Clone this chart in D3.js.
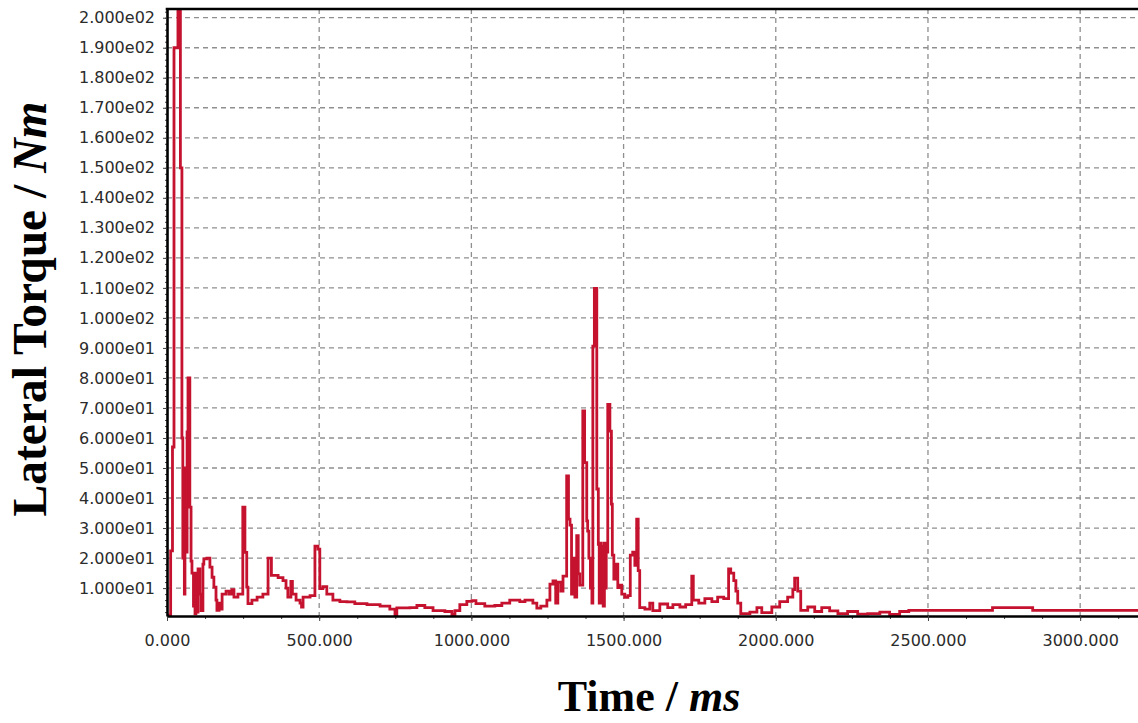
<!DOCTYPE html>
<html>
<head>
<meta charset="utf-8">
<script src="https://cdn.jsdelivr.net/npm/d3@7"></script>
<style>
  body { margin: 0; background: #fff; }
  svg { display: block; }
</style>
</head>
<body>
<svg id="chart" width="1138" height="723"></svg>
<script>
// Série (tempo em ms, torque lateral em Nm)
const timeMs = [
  0, 12, 18, 23, 36, 44, 49, 52, 54, 57, 59, 62, 66, 69, 75, 79, 82, 87, 92, 95,
  98, 102, 108, 112, 118, 121, 131, 141, 148, 154, 161, 164, 171, 177, 181, 194, 204, 213, 220, 233,
  249, 256, 262, 266, 279, 296, 315, 332, 343, 365, 381, 391, 397, 407, 412, 424, 437, 442, 447, 470,
  486, 496, 502, 512, 525, 545, 568, 591, 617, 657, 700, 732, 749, 755, 798, 821, 847, 874, 913, 936,
  946, 962, 985, 1002, 1015, 1044, 1077, 1100, 1126, 1159, 1176, 1202, 1215, 1228, 1248, 1258, 1268, 1277, 1284, 1294,
  1301, 1313, 1319, 1324, 1329, 1333, 1340, 1346, 1351, 1356, 1366, 1372, 1379, 1382, 1386, 1391, 1396, 1399, 1404, 1412,
  1417, 1420, 1424, 1427, 1430, 1433, 1437, 1440, 1443, 1448, 1455, 1460, 1463, 1468, 1474, 1481, 1487, 1494, 1504, 1514,
  1522, 1530, 1537, 1543, 1548, 1553, 1570, 1586, 1596, 1619, 1645, 1662, 1685, 1704, 1724, 1729, 1747, 1767, 1790, 1809,
  1829, 1845, 1852, 1862, 1869, 1875, 1885, 1915, 1938, 1954, 1987, 2013, 2039, 2056, 2062, 2072, 2082, 2105, 2128, 2151,
  2177, 2204, 2236, 2269, 2302, 2342, 2374, 2407, 2437, 2712, 2844, 3200
];
const torqueNm = [
  1, 22.4, 57, 190, 210, 150, 60, 20, 45, 8, 50, 22, 62, 80, 37, 19, 15, 4, 1.4, 15,
  2, 16.4, 8, 2.5, 18, 19.7, 20, 17, 13.6, 10.3, 6, 2.6, 5, 3, 8, 9, 8, 9.5, 7, 8,
  37, 21.9, 10.3, 4.8, 6, 7, 8, 20, 14.2, 13.5, 12.5, 10, 7, 12.2, 8, 6, 5, 3.7, 7, 7.5,
  24, 23, 9.8, 10.5, 8, 6, 5.5, 5.4, 4.8, 4.5, 4, 3, 1.2, 3.4, 3.5, 4.2, 3.5, 2.5, 2.2, 1.2,
  2.5, 4.5, 5.6, 5.8, 4.8, 4, 4.2, 5, 6, 5.5, 6, 5, 3.3, 4, 6, 11.3, 12.4, 5, 12, 9,
  14, 47.4, 33, 31, 8, 20, 7, 27.5, 14.7, 11, 69, 51.8, 32.4, 29, 20, 10, 5, 90.6, 109.8, 43,
  24.6, 5, 25, 8, 24, 4, 25, 10, 22, 71.2, 62.3, 38, 21, 13, 18, 10.2, 11, 8, 6.9, 7.5,
  21, 22, 17.6, 33, 15.8, 3.5, 3, 5, 2.5, 4.7, 3.5, 4.5, 3.7, 4.5, 14, 6, 5, 6.5, 5.5, 7,
  6.5, 16.4, 15, 12.5, 9, 5, 1.5, 2, 3.5, 1.8, 3.7, 5.5, 7, 9.5, 13.3, 9, 2.6, 3.7, 2.2, 3.5,
  2.4, 1.5, 2.2, 1.3, 1.5, 2, 1.2, 2.2, 2.6, 3.5, 2.6, 2.6
];

const xTicks = [0, 500, 1000, 1500, 2000, 2500, 3000];
const xTickLabels = ["0.000", "500.000", "1000.000", "1500.000", "2000.000", "2500.000", "3000.000"];
const yTicks = [10, 20, 30, 40, 50, 60, 70, 80, 90, 100, 110, 120, 130, 140, 150, 160, 170, 180, 190, 200];
const yTickLabels = [
  "1.000e01", "2.000e01", "3.000e01", "4.000e01", "5.000e01", "6.000e01", "7.000e01", "8.000e01", "9.000e01",
  "1.000e02", "1.100e02", "1.200e02", "1.300e02", "1.400e02", "1.500e02", "1.600e02", "1.700e02", "1.800e02",
  "1.900e02", "2.000e02"
];

const svg = d3.select("#chart");
const margens = { left: 167, right: 0, top: 9, bottom: 107 };
const width = 1138 - margens.left - margens.right;
const height = 723 - margens.top - margens.bottom;

const x = d3.scaleLinear().domain([0, 3190]).range([0, width]);
const y = d3.scaleLinear().domain([0.7, 202.9]).range([height, 0]);

const g = svg.append("g").attr("transform", `translate(${margens.left},${margens.top})`);

g.append("defs").append("clipPath").attr("id", "plot-clip")
  .append("rect").attr("x", 0).attr("y", 0).attr("width", width).attr("height", height);

// Grade tracejada
g.append("g").selectAll("line")
  .data(yTicks)
  .enter()
  .append("line")
  .attr("x1", 0)
  .attr("x2", width)
  .attr("y1", (d) => y(d))
  .attr("y2", (d) => y(d))
  .attr("stroke", "#8f8f8f")
  .attr("stroke-width", 1.3)
  .attr("stroke-dasharray", "5,4");

g.append("g").selectAll("line")
  .data(xTicks.filter((d) => d > 0))
  .enter()
  .append("line")
  .attr("x1", (d) => x(d))
  .attr("x2", (d) => x(d))
  .attr("y1", 0)
  .attr("y2", height)
  .attr("stroke", "#8f8f8f")
  .attr("stroke-width", 1.3)
  .attr("stroke-dasharray", "5,4");

// Linha da série
const line = d3.line()
  .x((d) => x(d[0]))
  .y((d) => y(d[1]))
  .curve(d3.curveStepAfter);

g.append("path")
  .datum(timeMs.map((t, i) => [t, torqueNm[i]]))
  .attr("clip-path", "url(#plot-clip)")
  .attr("fill", "none")
  .attr("stroke", "#c4122f")
  .attr("stroke-width", 2.8)
  .attr("stroke-linejoin", "miter")
  .attr("d", line);

// Ticks menores
g.append("g")
  .attr("transform", `translate(0,${height})`)
  .call(d3.axisBottom(x).tickValues(d3.range(0, 3190, 125)).tickSize(3).tickFormat(""))
  .call((a) => a.select(".domain").remove())
  .call((a) => a.selectAll("line").attr("stroke", "#444"));

g.append("g")
  .call(d3.axisLeft(y).tickValues(d3.range(2, 203, 2)).tickSize(2).tickFormat(""))
  .call((a) => a.select(".domain").remove())
  .call((a) => a.selectAll("line").attr("stroke", "#444"));

// Eixos
const xAxis = g.append("g")
  .attr("transform", `translate(0,${height})`)
  .call(d3.axisBottom(x).tickValues(xTicks).tickFormat((d, i) => xTickLabels[i]).tickSize(5).tickSizeOuter(0).tickPadding(14));

const yAxis = g.append("g")
  .call(d3.axisLeft(y).tickValues(yTicks).tickFormat((d, i) => yTickLabels[i]).tickSize(4).tickSizeOuter(0).tickPadding(8));

[xAxis, yAxis].forEach((a) => {
  a.select(".domain").attr("stroke", "#000").attr("stroke-width", 2.6);
  a.selectAll(".tick line").attr("stroke", "#444");
  a.selectAll("text")
    .attr("fill", "#2b2b2b")
    .style("font-family", "'DejaVu Sans', Verdana, sans-serif")
    .style("font-size", "16px");
});

// Borda superior
g.append("line")
  .attr("x1", -1.3)
  .attr("x2", width)
  .attr("y1", 0)
  .attr("y2", 0)
  .attr("stroke", "#000")
  .attr("stroke-width", 2.6);

// Títulos dos eixos
svg.append("text")
  .attr("x", 649)
  .attr("y", 711)
  .attr("text-anchor", "middle")
  .style("font-family", "'Liberation Serif', 'Times New Roman', serif")
  .style("font-weight", "bold")
  .style("font-size", "44px")
  .attr("fill", "#000")
  .call((t) => {
    t.append("tspan").text("Time / ");
    t.append("tspan").style("font-style", "italic").text("ms");
  });

svg.append("text")
  .attr("transform", "translate(46,309) rotate(-90)")
  .attr("text-anchor", "middle")
  .style("font-family", "'Liberation Serif', 'Times New Roman', serif")
  .style("font-weight", "bold")
  .style("font-size", "47.5px")
  .attr("fill", "#000")
  .call((t) => {
    t.append("tspan").text("Lateral Torque / ");
    t.append("tspan").style("font-style", "italic").text("Nm");
  });
</script>
</body>
</html>
